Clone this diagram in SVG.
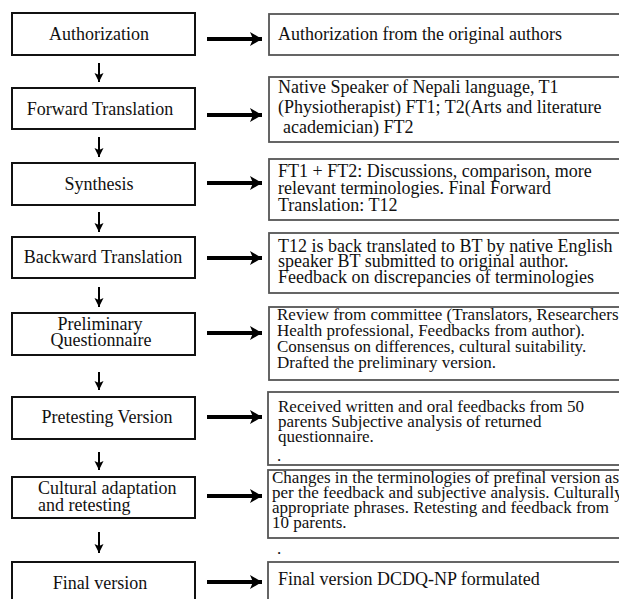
<svg xmlns="http://www.w3.org/2000/svg" width="619" height="599" viewBox="0 0 619 599">
<style>
  .lb { fill: #fff; stroke: #111; stroke-width: 2; }
  .rb { fill: #fff; stroke: #555; stroke-width: 1.8; }
  text { font-family: "Liberation Serif", "Times New Roman", serif; font-size: 18px; fill: #111; }
  .c { text-anchor: middle; }
  .s { font-size: 17px; }
  .ha { stroke: #000; stroke-width: 4; fill: none; }
  .va { stroke: #000; stroke-width: 2; fill: none; }
</style>
<defs>
  <marker id="hh" markerUnits="userSpaceOnUse" markerWidth="14" markerHeight="16" refX="12" refY="8" orient="auto">
    <path d="M0,1 L12,8 L0,15 L3,8 Z" fill="#000"/>
  </marker>
  <marker id="vh" markerUnits="userSpaceOnUse" markerWidth="10" markerHeight="10" refX="9" refY="5" orient="auto">
    <path d="M0,0.5 L9,5 L0,9.5 L2,5 Z" fill="#000"/>
  </marker>
</defs>
<rect width="619" height="599" fill="#fff"/>

<g id="connectors">
  <line class="ha" x1="207" y1="39" x2="262" y2="39" marker-end="url(#hh)"/>
  <line class="ha" x1="207" y1="115" x2="262" y2="115" marker-end="url(#hh)"/>
  <line class="ha" x1="207" y1="183" x2="262" y2="183" marker-end="url(#hh)"/>
  <line class="ha" x1="207" y1="258" x2="262" y2="258" marker-end="url(#hh)"/>
  <line class="ha" x1="207" y1="333" x2="262" y2="333" marker-end="url(#hh)"/>
  <line class="ha" x1="207" y1="417" x2="262" y2="417" marker-end="url(#hh)"/>
  <line class="ha" x1="207" y1="496" x2="262" y2="496" marker-end="url(#hh)"/>
  <line class="ha" x1="207" y1="582" x2="262" y2="582" marker-end="url(#hh)"/>

  <line class="va" x1="99" y1="63" x2="99" y2="82" marker-end="url(#vh)"/>
  <line class="va" x1="99" y1="137" x2="99" y2="157" marker-end="url(#vh)"/>
  <line class="va" x1="99" y1="212" x2="99" y2="232" marker-end="url(#vh)"/>
  <line class="va" x1="99" y1="287" x2="99" y2="307" marker-end="url(#vh)"/>
  <line class="va" x1="99" y1="372" x2="99" y2="390" marker-end="url(#vh)"/>
  <line class="va" x1="99" y1="452" x2="99" y2="470" marker-end="url(#vh)"/>
  <line class="va" x1="99" y1="532" x2="99" y2="553" marker-end="url(#vh)"/>
</g>

<g id="authorization">
  <rect class="lb" x="12" y="13" width="183" height="42"/>
  <text class="c" x="99" y="40">Authorization</text>
</g>
<g id="forward-translation">
  <rect class="lb" x="12" y="88" width="183" height="41"/>
  <text class="c" x="100" y="115">Forward Translation</text>
</g>
<g id="synthesis">
  <rect class="lb" x="12" y="163" width="183" height="42"/>
  <text class="c" x="99" y="190">Synthesis</text>
</g>
<g id="backward-translation">
  <rect class="lb" x="12" y="237" width="183" height="41"/>
  <text class="c" x="103" y="263">Backward Translation</text>
</g>
<g id="preliminary-questionnaire">
  <rect class="lb" x="12" y="313" width="183" height="42"/>
  <text class="c" x="100" y="330">Preliminary</text>
  <text class="c" x="101" y="346">Questionnaire</text>
</g>
<g id="pretesting-version">
  <rect class="lb" x="12" y="397" width="183" height="42"/>
  <text class="c" x="107" y="423">Pretesting Version</text>
</g>
<g id="cultural-adaptation">
  <rect class="lb" x="12" y="477" width="183" height="41"/>
  <text x="38" y="494">Cultural adaptation</text>
  <text x="38" y="511">and retesting</text>
</g>
<g id="final-version">
  <rect class="lb" x="12" y="562" width="183" height="42"/>
  <text class="c" x="100" y="589">Final version</text>
</g>

<g id="r-authorization">
  <rect class="rb" x="269" y="14" width="360" height="41"/>
  <text x="278" y="40">Authorization from the original authors</text>
</g>
<g id="r-forward">
  <rect class="rb" x="269" y="77" width="360" height="65"/>
  <text x="278" y="93">Native Speaker of Nepali language, T1</text>
  <text x="278" y="113">(Physiotherapist) FT1; T2(Arts and literature</text>
  <text x="283" y="133">academician) FT2</text>
</g>
<g id="r-synthesis">
  <rect class="rb" x="269" y="159" width="360" height="61"/>
  <text x="278" y="177">FT1 + FT2: Discussions, comparison, more</text>
  <text x="278" y="194">relevant terminologies. Final Forward</text>
  <text x="278" y="211">Translation: T12</text>
</g>
<g id="r-backward">
  <rect class="rb" x="269" y="233" width="360" height="60"/>
  <text x="278" y="252">T12 is back translated to BT by native English</text>
  <text x="278" y="267">speaker BT submitted to original author.</text>
  <text x="278" y="283">Feedback on discrepancies of terminologies</text>
</g>
<g id="r-preliminary">
  <rect class="rb" x="269" y="307" width="360" height="73"/>
  <text class="s" x="277" y="320">Review from committee (Translators, Researchers</text>
  <text class="s" x="277" y="336">Health professional, Feedbacks from author).</text>
  <text class="s" x="277" y="352">Consensus on differences, cultural suitability.</text>
  <text class="s" x="277" y="368">Drafted the preliminary version.</text>
</g>
<g id="r-pretesting">
  <rect class="rb" x="268" y="392" width="360" height="73"/>
  <text class="s" x="278" y="412">Received written and oral feedbacks from 50</text>
  <text class="s" x="278" y="427">parents Subjective analysis of returned</text>
  <text class="s" x="278" y="442">questionnaire.</text>
  <text class="s" x="277" y="461">.</text>
</g>
<g id="r-cultural">
  <rect class="rb" x="268" y="470" width="360" height="68"/>
  <text class="s" x="272" y="483">Changes in the terminologies of prefinal version as</text>
  <text class="s" x="272" y="498">per the feedback and subjective analysis. Culturally</text>
  <text class="s" x="272" y="513">appropriate phrases. Retesting and feedback from</text>
  <text class="s" x="272" y="528">10 parents.</text>
  <text class="s" x="277" y="554">.</text>
</g>
<g id="r-final">
  <rect class="rb" x="268" y="562" width="360" height="45"/>
  <text x="278" y="585">Final version DCDQ-NP formulated</text>
</g>
</svg>
